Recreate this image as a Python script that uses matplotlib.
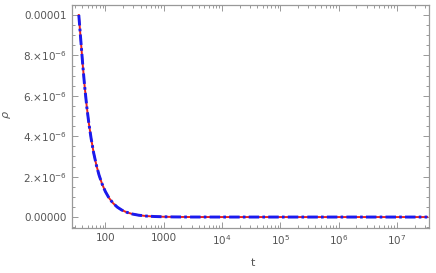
import matplotlib
matplotlib.use('Agg')
import matplotlib.pyplot as plt
from matplotlib.ticker import FixedLocator, FixedFormatter, LogLocator, NullFormatter

# values (t on log axis, rho)
t = [35, 38, 41, 44, 48, 52, 57, 63, 70, 78, 88, 100, 115, 135, 160, 190, 230,
     290, 370, 500, 700, 1000, 1500, 3000, 1e4, 1e5, 1e6, 1e7, 3.3e7]
rho = [10.0e-6, 8.7e-6, 7.5e-6, 6.5e-6, 5.45e-6, 4.65e-6, 3.88e-6, 3.17e-6,
       2.57e-6, 2.07e-6, 1.63e-6, 1.26e-6, 0.95e-6, 0.69e-6, 0.49e-6, 0.35e-6,
       0.24e-6, 0.15e-6, 0.092e-6, 0.05e-6, 0.026e-6, 0.013e-6, 0.0056e-6,
       0.0014e-6, 0.0001e-6, 0.0, 0.0, 0.0, 0.0]

y_ticks = [0, 2e-6, 4e-6, 6e-6, 8e-6, 1e-5]
y_labels = ['0.00000', r'2.$\times$10$^{-6}$', r'4.$\times$10$^{-6}$',
            r'6.$\times$10$^{-6}$', r'8.$\times$10$^{-6}$', '0.00001']
x_ticks = [100, 1000, 1e4, 1e5, 1e6, 1e7]
x_labels = ['100', '1000', r'10$^{4}$', r'10$^{5}$', r'10$^{6}$', r'10$^{7}$']

grey = '#999999'
txt = '#555555'

fig = plt.figure(figsize=(4.36, 2.73), dpi=100)
ax = fig.add_axes([0.165, 0.165, 0.819, 0.817])

ax.plot(t, rho, color='#e8231e', lw=1.4, zorder=2)
ax.plot(t, rho, color='#1a1aee', lw=2.1, ls=(0, (3.6, 1.1, 0.9, 1.1)), zorder=3)

ax.set_xscale('log')
ax.set_xlim(26.7, 3.54e7)
ax.set_ylim(-0.54e-6, 1.05e-5)

ax.xaxis.set_major_locator(FixedLocator(x_ticks))
ax.xaxis.set_major_formatter(FixedFormatter(x_labels))
ax.xaxis.set_minor_locator(LogLocator(base=10, subs=range(2, 10), numticks=20))
ax.xaxis.set_minor_formatter(NullFormatter())
ax.yaxis.set_major_locator(FixedLocator(y_ticks))
ax.yaxis.set_major_formatter(FixedFormatter(y_labels))
ax.yaxis.set_minor_locator(FixedLocator([i * 0.5e-6 for i in range(-1, 22)]))

ax.tick_params(which='both', direction='in', top=True, right=True, color=grey,
               labelcolor=txt, labelsize=7.5, width=0.7)
ax.tick_params(which='major', length=4)
ax.tick_params(which='minor', length=2.2)
for s in ax.spines.values():
    s.set_color(grey)
    s.set_linewidth(0.9)

ax.set_xlabel('t', color=txt, fontsize=8)
ax.set_ylabel(r'$\rho$', color=txt, fontsize=8)
ax.xaxis.set_label_coords((253 - 72) / 357, -0.135)
ax.yaxis.set_label_coords(-0.165, (228 - 115) / 223)

fig.savefig('out.png', dpi=100)
